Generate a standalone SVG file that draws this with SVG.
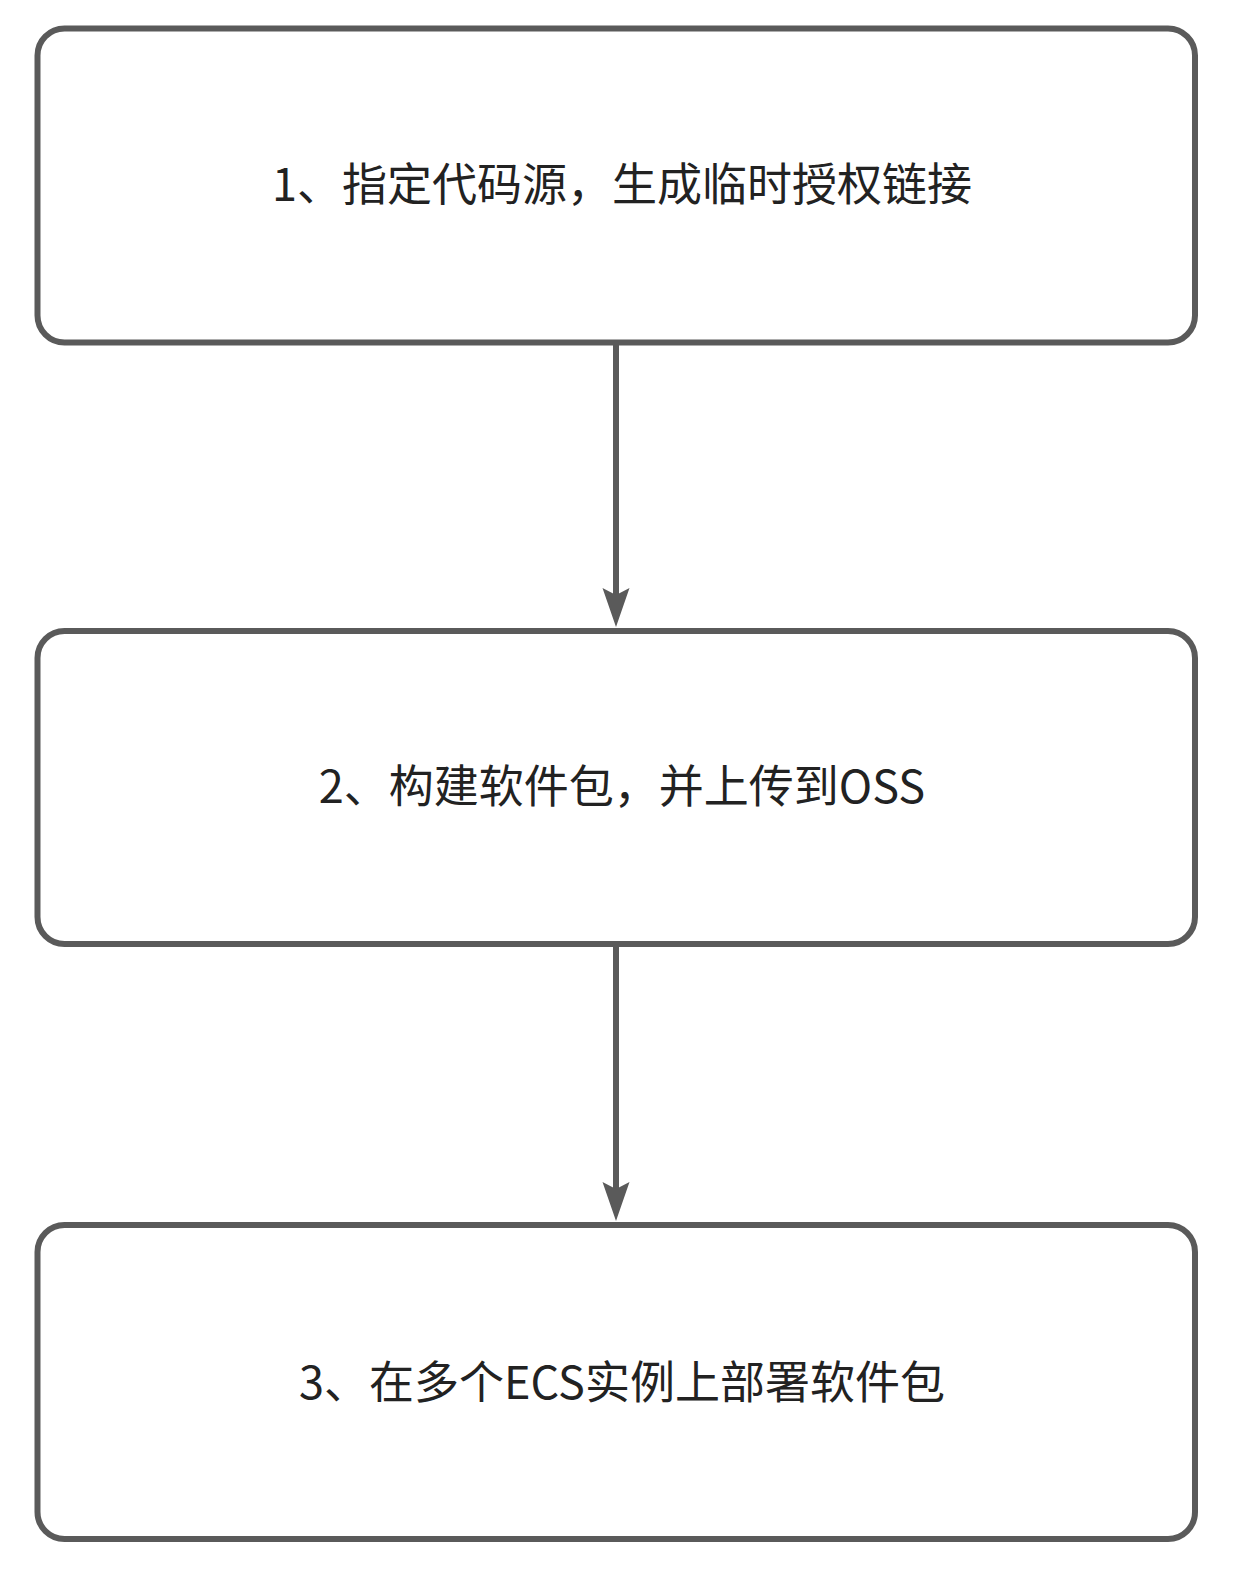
<svg xmlns="http://www.w3.org/2000/svg" width="1260" height="1572" viewBox="0 0 1260 1572">
<style>
.box{fill:#ffffff;stroke:#5a5a5a;stroke-width:6}
.lbl{font-family:"Noto Sans CJK SC","Noto Sans",sans-serif;font-size:45px;fill:#222222;text-anchor:middle}
.conn{stroke:#5a5a5a;stroke-width:6;fill:none}
.head{fill:#5a5a5a}
</style>
<rect width="1260" height="1572" fill="#ffffff"/>
<g id="node1">
<rect class="box" x="37.5" y="28.5" width="1157.5" height="314" rx="27" ry="27"/>
<text class="lbl" x="622" y="201">1、指定代码源，生成临时授权链接</text>
</g>
<g id="node2">
<rect class="box" x="37.5" y="631" width="1157.5" height="313" rx="27" ry="27"/>
<text class="lbl" x="622" y="803">2、构建软件包，并上传到OSS</text>
</g>
<g id="node3">
<rect class="box" x="37.5" y="1225" width="1157.5" height="314" rx="27" ry="27"/>
<text class="lbl" x="622" y="1399">3、在多个ECS实例上部署软件包</text>
</g>
<g id="connectors">
<line class="conn" x1="616" y1="343" x2="616" y2="595"/>
<polygon class="head" points="602.5,588 616,627 629.5,588 616,595"/>
<line class="conn" x1="616" y1="944" x2="616" y2="1189"/>
<polygon class="head" points="602.5,1182 616,1221 629.5,1182 616,1189"/>
</g>
</svg>
